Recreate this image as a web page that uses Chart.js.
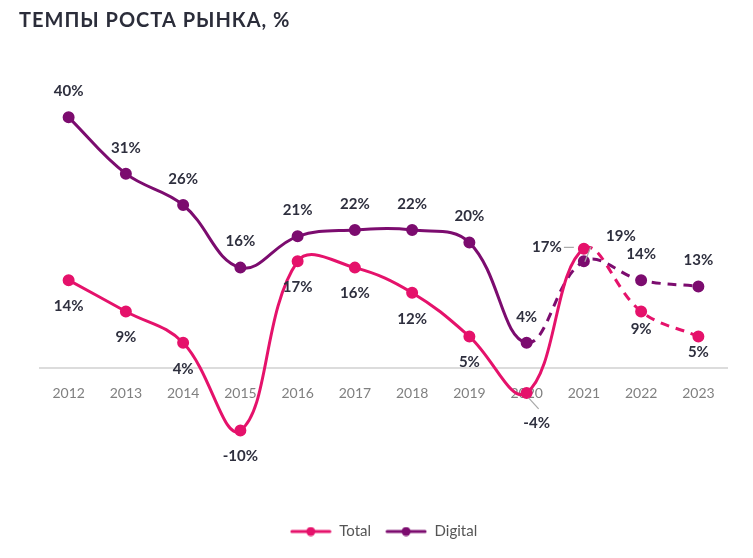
<!DOCTYPE html>
<html>
<head>
<meta charset="utf-8">
<script src="https://cdn.jsdelivr.net/npm/chart.js@4/dist/chart.umd.min.js"></script>
<style>
  html, body { margin: 0; padding: 0; background: #fff; }
  #wrap { position: relative; width: 753px; height: 558px; }
  #title { position: absolute; left: 19px; top: 7px; font: bold 20px Lato, sans-serif; color: #2b2d3a; letter-spacing: 1px; }
  canvas { position: absolute; left: 0; top: 0; }
</style>
</head>
<body>
<div id="wrap">
  <canvas id="marketChart" width="753" height="558"></canvas>
  <div id="title">ТЕМПЫ РОСТА РЫНКА, %</div>
</div>
<script>
var years = ["2012", "2013", "2014", "2015", "2016", "2017", "2018", "2019", "2020", "2021", "2022", "2023"];
var totalValues = [14, 9, 4, -10, 17, 16, 12, 5, -4, 19, 9, 5];
var digitalValues = [40, 31, 26, 16, 21, 22, 22, 20, 4, 17, 14, 13];

var totalColor = "#e5126b";
var digitalColor = "#7c0c6f";

// legend marker: short line with a dot
function legendMarker(color) {
    var c = document.createElement("canvas");
    c.width = 42; c.height = 10;
    var g = c.getContext("2d");
    g.strokeStyle = color; g.lineWidth = 3; g.lineCap = "round";
    g.beginPath(); g.moveTo(2, 5); g.lineTo(40, 5); g.stroke();
    g.fillStyle = color;
    g.beginPath(); g.arc(21, 5, 4.5, 0, Math.PI * 2); g.fill();
    return c;
}

// label placement per series: [dx, dy, leader line or null]
var totalLabelPos = {
    default: [0, 26],
    8: [10, 30, [2, 5, 12, 16]],
    9: [37, -13, [7, -2, 1, 13]],
    10: [0, 18],
    11: [0, 16]
};
var digitalLabelPos = {
    default: [0, -26],
    9: [-37, -14, [-20, -14, -10, -14]]
};

var labelPlugin = {
    id: "valueLabels",
    afterDatasetsDraw: function (chart) {
        var ctx = chart.ctx;
        ctx.save();
        ctx.font = "bold 15px Lato, sans-serif";
        ctx.fillStyle = "#2e2f3e";
        ctx.textAlign = "center";
        ctx.textBaseline = "middle";
        chart.data.datasets.forEach(function (ds, di) {
            var meta = chart.getDatasetMeta(di);
            var pos = di === 0 ? totalLabelPos : digitalLabelPos;
            meta.data.forEach(function (pt, i) {
                var p = pos[i] || pos.default;
                var x = pt.x + p[0], y = pt.y + p[1];
                if (p[2]) {
                    ctx.strokeStyle = "#a8a8a8";
                    ctx.lineWidth = 1.2;
                    ctx.beginPath();
                    ctx.moveTo(pt.x + p[2][0], pt.y + p[2][1]);
                    ctx.lineTo(pt.x + p[2][2], pt.y + p[2][3]);
                    ctx.stroke();
                }
                ctx.fillText(ds.data[i] + "%", x, y);
            });
        });
        ctx.restore();
    }
};

var ctx = document.getElementById("marketChart").getContext("2d");
var chart = new Chart(ctx, {
    type: "line",
    data: {
        labels: years,
        datasets: [
            {
                label: "Total",
                data: totalValues,
                borderColor: totalColor,
                backgroundColor: totalColor,
                borderWidth: 3,
                pointRadius: 4.5,
                pointHoverRadius: 4.5,
                tension: 0.4,
                segment: {
                    borderDash: function (c) { return c.p0DataIndex >= 9 ? [9, 7] : undefined; }
                }
            },
            {
                label: "Digital",
                data: digitalValues,
                borderColor: digitalColor,
                backgroundColor: digitalColor,
                borderWidth: 3,
                pointRadius: 4.5,
                pointHoverRadius: 4.5,
                tension: 0.4,
                segment: {
                    borderDash: function (c) { return c.p0DataIndex >= 8 ? [9, 7] : undefined; }
                }
            }
        ]
    },
    options: {
        responsive: false,
        animation: false,
        layout: { padding: { left: 40, right: 26, top: 86, bottom: 9 } },
        scales: {
            x: {
                position: { y: 0 },
                offset: true,
                grid: { display: false, drawTicks: false, offset: true },
                border: { color: "#dcdcdc", width: 2 },
                ticks: { color: "#808080", font: { family: "Lato", size: 14 }, padding: 17 }
            },
            y: {
                display: false,
                min: -22.7,
                max: 45
            }
        },
        plugins: {
            tooltip: { enabled: false },
            legend: {
                position: "bottom",
                labels: {
                    usePointStyle: true,
                    pointStyleWidth: 42,
                    color: "#555",
                    font: { family: "Lato", size: 15 },
                    padding: 14,
                    generateLabels: function (chart) {
                        return chart.data.datasets.map(function (ds, i) {
                            return {
                                text: ds.label,
                                pointStyle: legendMarker(ds.borderColor),
                                fillStyle: ds.borderColor,
                                strokeStyle: ds.borderColor,
                                lineWidth: 0,
                                fontColor: "#555",
                                datasetIndex: i
                            };
                        });
                    }
                }
            }
        }
    },
    plugins: [labelPlugin]
});
</script>
</body>
</html>
